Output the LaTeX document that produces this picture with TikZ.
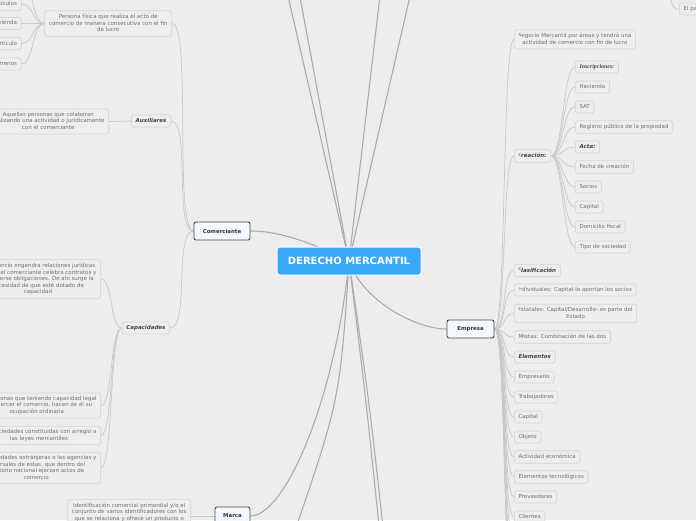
\documentclass[tikz,border=0pt]{standalone}
\usepackage{fontspec}
\setmainfont{DejaVu Sans}
\newfontfamily\serifbi{Liberation Serif}
\pgfdeclarelayer{back}\pgfdeclarelayer{bg}\pgfsetlayers{back,bg,main}
\definecolor{bgc}{RGB}{237,237,237}
\definecolor{leafd}{RGB}{212,212,212}
\definecolor{leaff}{RGB}{238,238,238}
\definecolor{leaft}{RGB}{112,112,112}
\definecolor{bit}{RGB}{68,68,68}
\definecolor{brd}{RGB}{72,72,76}
\definecolor{brf}{RGB}{245,249,255}
\definecolor{brt}{RGB}{50,52,60}
\definecolor{rootc}{RGB}{58,168,247}
\definecolor{lnc}{RGB}{200,200,200}
\definecolor{lnr}{RGB}{172,172,172}
\newcommand\ls{\rule[-1.35pt]{0pt}{5.45pt}}
\newcommand\fl[1]{\raisebox{1.1pt}{\fontsize{3.8}{4}\selectfont\mdseries\upshape #1}}
\tikzset{
 leaf/.style={draw=leafd, fill=leaff, rounded corners=1.8pt, line width=0.7pt, text=leaft,
   font=\fontsize{5.5}{6.5}\selectfont, inner xsep=4.2pt, inner ysep=3.3pt, align=center,
   execute at begin node=\ls, execute at end node=\ls},
 bi/.style={leaf, text=bit, font=\fontsize{5.5}{6.5}\selectfont\bfseries\itshape},
 sbi/.style={leaf, text=bit, font=\fontsize{5.9}{6.5}\selectfont\serifbi\bfseries\itshape},
 branch/.style={draw=brd, fill=brf, rounded corners=2pt, line width=0.9pt, text=brt,
   font=\fontsize{5.4}{6.5}\selectfont\bfseries, minimum height=18pt, inner sep=0pt},
 rootn/.style={draw=white, fill=rootc, rounded corners=2.5pt, line width=1pt, text=white,
   font=\fontsize{10}{12}\selectfont\bfseries, minimum width=144pt, minimum height=28pt, inner sep=0pt},
 conn/.style={draw=lnc, line width=0.7pt},
 rconn/.style={draw=lnr, line width=1.1pt},
}
\begin{document}
\begin{tikzpicture}[x=1pt,y=-1pt]
\useasboundingbox (0,0) rectangle (696,520);
\begin{pgfonlayer}{back}
\fill[bgc] (0,0) rectangle (696,520);
\end{pgfonlayer}

% root and branches
\node[rootn] (root) at (349,261) {DERECHO MERCANTIL};
\node[branch, minimum width=56pt] (com) at (222,231) {Comerciante};
\node[branch, minimum width=47pt] (emp) at (470.5,329) {Empresa};
\node[branch, minimum width=35pt] (mar) at (232.5,516) {Marca};

% Comerciante children
\node[leaf, anchor=east] (pf) at (172,23.5) {Persona física que realiza el acto de\\comercio de manera consecutiva con el fin\\de lucro};
\node[bi, anchor=east] (aux) at (171,121) {Auxiliares};
\node[bi, anchor=east] (cap) at (170,328) {Capacidades};

\node[leaf, anchor=east] (pf1) at (21.5,4) {Artículos};
\node[leaf, anchor=east] (pf2) at (21.5,23.5) {Vivienda};
\node[leaf, anchor=east] (pf3) at (21.5,43.5) {Artículo};
\node[leaf, anchor=east] (pf4) at (21.5,64) {Terrenos};

\node[leaf, anchor=east] (aux1) at (109,121.5) {Aquellas personas que colaboran\\realizando una actividad o jurídicamente\\con el comerciante};

\node[leaf, anchor=east] (cap1) at (101,279) {El comercio engendra relaciones jurídicas\\porque el comerciante celebra contratos y\\contraerse obligaciones. De ahí surge la\\necesidad de que esté dotado de\\capacidad};
\node[leaf, anchor=east] (cap2) at (101,405.5) {Las personas que teniendo capacidad legal\\para ejercer el comercio, hacen de él su\\ocupación ordinaria};
\node[leaf, anchor=east] (cap3) at (101,435.5) {Las sociedades constituidas con arreglo a\\las leyes mercantiles};
\node[leaf, anchor=east] (cap4) at (101,468) {Las sociedades extranjeras o las agencias y\\sucursales de estas, que dentro del\\territorio nacional ejerzan actos de\\comercio};

% Marca child
\node[leaf, anchor=north east] (mar1) at (191,499) {Identificación comercial primordial y/o el\\conjunto de varios identificadores con los\\que se relaciona y ofrece un producto o\\servicio};

% Empresa children
\node[leaf, anchor=west] (neg) at (514,39.5) {\fl{N}egocio Mercantil por áreas y tendrá una\\actividad de comercio con fin de lucro};
\node[bi, anchor=west] (cre) at (514,156) {\fl{C}reación:};
\node[bi, anchor=west] (cla) at (514,270.5) {\fl{C}lasificación};
\node[leaf, anchor=west] (ind) at (514,290) {\fl{In}dividuales: Capital-lo aportan los socios};
\node[leaf, anchor=west] (est) at (514,313.5) {\fl{E}statales: Capital/Desarrollo- es parte del\\Estado};
\node[leaf, anchor=west] (mix) at (514,337) {MIxtas: Combinación de las dos};
\node[bi, anchor=west] (ele) at (514,357) {Elementos};
\node[leaf, anchor=west] (e1) at (514,377) {Empresario};
\node[leaf, anchor=west] (e2) at (514,397) {Trabajadores};
\node[leaf, anchor=west] (e3) at (514,417) {Capital};
\node[leaf, anchor=west] (e4) at (514,437) {Objeto};
\node[leaf, anchor=west] (e5) at (514,457) {Actividad económica};
\node[leaf, anchor=west] (e6) at (514,477) {Elementos tecnológicos};
\node[leaf, anchor=west] (e7) at (514,497) {Proveedores};
\node[leaf, anchor=west] (e8) at (514,517) {Clientes};

% Creacion children
\node[sbi, anchor=west] (c1) at (575,67) {Inscripciones:};
\node[leaf, anchor=west] (c2) at (575,87) {Hacienda};
\node[leaf, anchor=west] (c3) at (575,107) {SAT};
\node[leaf, anchor=west] (c4) at (575,127) {Registro público de la propiedad};
\node[bi, anchor=west] (c5) at (575,147) {Acta:};
\node[leaf, anchor=west] (c6) at (575,167) {Fecha de creación};
\node[leaf, anchor=west] (c7) at (575,187) {Socios};
\node[leaf, anchor=west] (c8) at (575,207) {Capital};
\node[leaf, anchor=west] (c9) at (575,227) {Domicilio fiscal};
\node[leaf, anchor=west] (c10) at (575,247) {Tipo de sociedad};

% top right
\node[leaf, anchor=west] (elp) at (679,9) {El patrimonio};

% off-canvas ends
\coordinate (t1) at (282,-30);
\coordinate (t2) at (295,-30);
\coordinate (t3) at (383,-30);
\coordinate (t4) at (416,-30);
\coordinate (b1) at (290,545);
\coordinate (b2) at (381,545);
\coordinate (b3) at (385,545);
\coordinate (pf0) at (21.5,-16);
\coordinate (ex1) at (514,537);
\coordinate (ex2) at (514,557);
\coordinate (ex3) at (514,577);
\coordinate (ex4) at (514,597);
\coordinate (elpar) at (668,-30);

\begin{pgfonlayer}{bg}
% root connectors
\draw[rconn] (root.center) -- (t1);
\draw[rconn] (root.center) -- (t2);
\draw[rconn] (root.center) -- (t3);
\draw[rconn] (root.center) -- (t4);
\draw[rconn] (com.east) .. controls +(35,0) and (322,248) .. (root.center);
\draw[rconn] (root.center) .. controls (362,300) and (415,329) .. (emp.west);
\draw[rconn] (root.center) .. controls (335,400) and (285,516) .. (mar.east);
\draw[rconn] (root.center) .. controls (340,400) .. (b1);
\draw[rconn] (root.center) .. controls (366,400) .. (b2);
\draw[rconn] (root.center) .. controls (369,400) .. (b3);
% Comerciante
\foreach \k in {pf,aux,cap}
  \draw[conn] (com.west) .. controls +(-20,0) and +(20,0) .. (\k.east);
\foreach \k in {pf1,pf2,pf3,pf4}
  \draw[conn] (pf.west) .. controls +(-12,0) and +(12,0) .. (\k.east);
\draw[conn] (pf.west) .. controls +(-12,0) and +(12,0) .. (pf0);
\draw[conn] (aux.west) -- (aux1.east);
\foreach \k in {cap1,cap2,cap3,cap4}
  \draw[conn] (cap.west) .. controls +(-12,0) and +(12,0) .. (\k.east);
% Marca
\draw[conn] (mar.west) -- (mar.west -| mar1.east);
% Empresa
\foreach \k in {neg,cre,cla,ind,est,mix,ele,e1,e2,e3,e4,e5,e6,e7,e8}
  \draw[conn] (emp.east) .. controls +(12,0) and +(-12,0) .. (\k.west);
\foreach \k in {ex1,ex2,ex3,ex4}
  \draw[conn] (emp.east) .. controls +(12,0) and +(-12,0) .. (\k);
\foreach \k in {c1,c2,c3,c4,c5,c6,c7,c8,c9,c10}
  \draw[conn] (cre.east) .. controls +(12,0) and +(-12,0) .. (\k.west);
\draw[conn] (elpar) .. controls (670,5) and (672,9) .. (elp.west);
\end{pgfonlayer}
\end{tikzpicture}
\end{document}
